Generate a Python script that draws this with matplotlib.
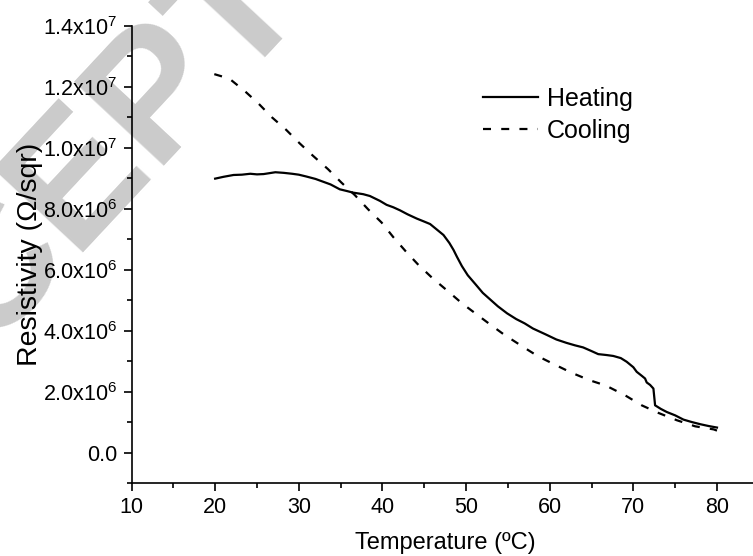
import math
import matplotlib
matplotlib.use("Agg")
import matplotlib.pyplot as plt
from matplotlib.ticker import FuncFormatter, MultipleLocator

plt.rcParams['font.family'] = ['Liberation Sans', 'DejaVu Sans']
plt.rcParams['mathtext.default'] = 'regular'

# Heating curve: temperature (ºC), resistivity (x1e6 Ω/sqr)
heat_T = [20.0, 21.0, 22.2, 23.2, 24.2, 25.0, 25.8, 26.5, 27.2, 28.2, 29.2, 30.0,
          30.9, 32.0, 32.9, 33.8, 34.9, 35.8, 36.5, 37.7, 38.5, 39.7, 40.5, 41.3,
          42.1, 43.0, 44.1, 45.0, 45.7, 46.5, 47.3, 48.0, 48.5, 48.9, 49.5, 50.2,
          51.2, 52.0, 52.9, 53.8, 54.9, 56.0, 57.0, 58.0, 59.5, 60.8, 62.0, 63.0,
          64.0, 65.0, 65.8, 66.8, 67.6, 68.5, 69.2, 70.0, 70.4, 71.0, 71.4, 71.6,
          72.0, 72.4, 72.6, 73.3, 74.0, 75.0, 76.0, 77.0, 78.0, 79.0, 80.0]
heat_R = [8.99, 9.05, 9.11, 9.12, 9.15, 9.13, 9.14, 9.17, 9.20, 9.18, 9.15, 9.12,
          9.06, 8.98, 8.89, 8.80, 8.64, 8.58, 8.53, 8.48, 8.42, 8.26, 8.13, 8.05,
          7.95, 7.82, 7.68, 7.58, 7.50, 7.32, 7.14, 6.88, 6.65, 6.43, 6.12, 5.82,
          5.50, 5.24, 5.02, 4.80, 4.57, 4.38, 4.24, 4.07, 3.88, 3.71, 3.60, 3.52,
          3.45, 3.33, 3.23, 3.20, 3.17, 3.10, 2.98, 2.80, 2.65, 2.52, 2.43, 2.30,
          2.22, 2.10, 1.55, 1.43, 1.33, 1.22, 1.08, 1.00, 0.93, 0.87, 0.82]

# Cooling curve
cool_T = [19.9, 21.0, 21.8, 23.6, 25.2, 26.8, 28.5, 30.1, 31.7, 33.5, 35.1, 36.7,
          38.3, 39.9, 41.3, 42.8, 44.3, 46.0, 47.9, 49.5, 51.1, 52.8, 54.5, 56.8,
          58.6, 60.5, 62.6, 64.8, 66.7, 69.0, 71.0, 73.0, 75.2, 77.4, 79.6, 80.0]
cool_R = [12.42, 12.33, 12.25, 11.85, 11.45, 11.00, 10.59, 10.15, 9.74, 9.30, 8.86, 8.45,
          7.98, 7.55, 7.07, 6.60, 6.16, 5.72, 5.28, 4.90, 4.57, 4.22, 3.88, 3.47,
          3.16, 2.90, 2.62, 2.37, 2.20, 1.88, 1.55, 1.30, 1.06, 0.86, 0.76, 0.72]

x_ticks = [10, 20, 30, 40, 50, 60, 70, 80]
y_ticks = [0.0, 2.0e6, 4.0e6, 6.0e6, 8.0e6, 1.0e7, 1.2e7, 1.4e7]

W, H = 753, 556
fig = plt.figure(figsize=(W / 100, H / 100), dpi=100)

# faint background watermark
fig.text(112 / W, 1 - 150 / H, "ACCEPTED", fontsize=128, fontweight='bold',
         color='#cbcbcb', rotation=47, rotation_mode='anchor',
         ha='center', va='center', zorder=-1)

left, right = 131.5, 758.8
bottom, top = 483, 26
ax = fig.add_axes([left / W, 1 - bottom / H, (right - left) / W, (bottom - top) / H])
ax.patch.set_alpha(0)

ax.plot(heat_T, [r * 1e6 for r in heat_R], color='black', lw=1.6, label='Heating')
ax.plot(cool_T, [r * 1e6 for r in cool_R], color='black', lw=1.6,
        linestyle=(0, (3.6, 4.6)), label='Cooling')

ax.set_xlim(10, 85)
ax.set_ylim(-1.0e6, 1.4e7)
ax.set_xticks(x_ticks)
ax.set_yticks(y_ticks)
ax.xaxis.set_minor_locator(MultipleLocator(5))
ax.yaxis.set_minor_locator(MultipleLocator(1e6))


def yfmt(v, pos):
    if abs(v) < 1:
        return "0.0"
    e = int(math.floor(math.log10(abs(v))))
    m = v / 10 ** e
    return f"{m:.1f}x10$^{{{e}}}$"


ax.yaxis.set_major_formatter(FuncFormatter(yfmt))

for s in ['top', 'right']:
    ax.spines[s].set_visible(False)
for s in ['left', 'bottom']:
    ax.spines[s].set_linewidth(1.2)

ax.tick_params(axis='both', which='major', direction='out', length=6, width=1.2,
               labelsize=15.5, pad=4)
ax.tick_params(axis='both', which='minor', direction='out', length=3.5, width=1.2)

ax.set_xlabel("Temperature (ºC)", fontsize=17, labelpad=10)
ax.set_ylabel("Resistivity (Ω/sqr)", fontsize=20.5, labelpad=0)

ax.legend(loc='upper left', frameon=False, fontsize=18, handlelength=2.2,
          handletextpad=0.35, labelspacing=0.32, borderaxespad=0, borderpad=0)
leg = ax.get_legend()
leg.set_bbox_to_anchor((483 / W, 1 - 87 / H), transform=fig.transFigure)

fig.savefig("out.png", dpi=100)
